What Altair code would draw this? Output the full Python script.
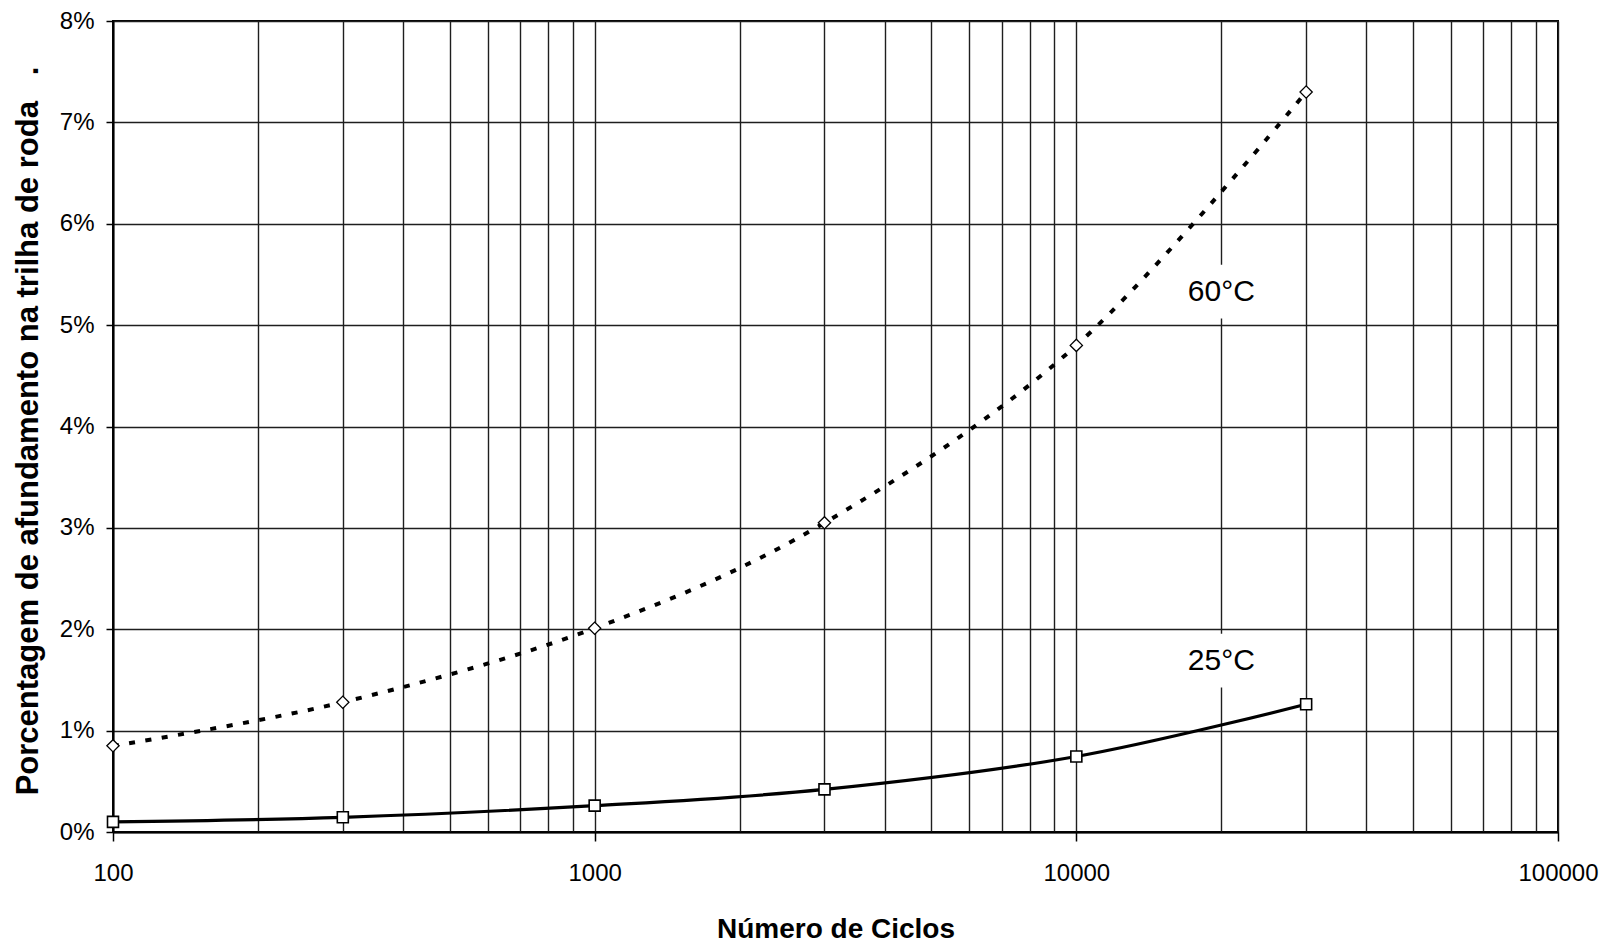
import altair as alt
import pandas as pd

# ---- data ----
ciclos = [100, 300, 1000, 3000, 10000, 30000]
afund_60 = [0.85, 1.28, 2.01, 3.05, 4.80, 7.30]   # %
afund_25 = [0.10, 0.145, 0.26, 0.42, 0.745, 1.26]  # %

grid_x = [100, 200, 300, 400, 500, 600, 700, 800, 900,
          1000, 2000, 3000, 4000, 5000, 6000, 7000, 8000, 9000,
          10000, 20000, 30000, 40000, 50000, 60000, 70000, 80000, 90000,
          100000]
major_x = [100, 1000, 10000, 100000]
y_ticks = [0, 1, 2, 3, 4, 5, 6, 7, 8]

rot_text = ["60°C", "25°C"]
rot_x = [20000, 20000]
rot_y = [5.33, 1.69]

FONT = "Liberation Sans"

df60 = pd.DataFrame({"x": ciclos, "y": afund_60})
df25 = pd.DataFrame({"x": ciclos, "y": afund_25})
dflab = pd.DataFrame({"x": rot_x, "y": rot_y, "t": rot_text})

major_test = " || ".join(f"datum.value == {v}" for v in major_x)

x_enc = alt.X(
    "x:Q",
    scale=alt.Scale(type="log", domain=[100, 100000], nice=False),
    axis=alt.Axis(
        values=grid_x,
        grid=True, gridColor="#1e1e1e", gridWidth=1.4, gridOpacity=1,
        domainColor="black", domainWidth=2,
        ticks=True, tickColor="black", tickWidth=1.5, tickSize=9,
        tickOpacity={"condition": {"test": major_test, "value": 1}, "value": 0},
        labelExpr=f"({major_test}) ? format(datum.value, 'd') : ''",
        labelFont=FONT, labelFontSize=24, labelColor="black",
        labelPadding=20, labelFlush=False, labelOverlap=False,
        title="Número de Ciclos", titleFont=FONT, titleFontSize=28,
        titleFontWeight="bold", titleColor="black",
        titleY=105, titleBaseline="alphabetic",
    ),
)

y_enc = alt.Y(
    "y:Q",
    scale=alt.Scale(domain=[0, 8], nice=False),
    axis=alt.Axis(
        values=y_ticks,
        grid=True, gridColor="#1e1e1e", gridWidth=1.4, gridOpacity=1,
        domainColor="black", domainWidth=2,
        ticks=True, tickColor="black", tickWidth=1.5, tickSize=7,
        labelExpr="datum.value + '%'",
        labelFont=FONT, labelFontSize=24, labelColor="black",
        labelPadding=12, labelOverlap=False,
        title="Porcentagem de afundamento na trilha de roda\u00a0\u00a0\u00a0.",
        titleFont=FONT, titleFontSize=31, titleFontWeight="bold",
        titleColor="black", titleX=-76, titleY=409.5,
        titleBaseline="alphabetic",
    ),
)

line60 = alt.Chart(df60).mark_line(
    interpolate="cardinal", color="black", strokeWidth=4,
    strokeDash=[6, 10.5], strokeCap="butt"
).encode(x=x_enc, y=y_enc)

pts60 = alt.Chart(df60).mark_point(
    shape="diamond", size=150, filled=True, fill="white",
    stroke="black", strokeWidth=1.3, opacity=1
).encode(x=x_enc, y=y_enc)

line25 = alt.Chart(df25).mark_line(
    interpolate="cardinal", color="black", strokeWidth=3.2
).encode(x=x_enc, y=y_enc)

pts25 = alt.Chart(df25).mark_point(
    shape="square", size=121, filled=True, fill="white",
    stroke="black", strokeWidth=1.6, opacity=1
).encode(x=x_enc, y=y_enc)

boxes = alt.Chart(dflab).mark_point(
    shape="square", size=2900, filled=True, fill="white",
    strokeWidth=0, opacity=1
).encode(x=x_enc, y=y_enc)

texts = alt.Chart(dflab).mark_text(
    font=FONT, fontSize=30, color="black", align="center", baseline="middle"
).encode(x=x_enc, y=y_enc, text="t:N")

chart = alt.layer(boxes, line60, line25, pts60, pts25, texts).properties(
    width=1445, height=811,
    autosize=alt.AutoSizeParams(type="none"),
    padding={"left": 113, "top": 21, "right": 56, "bottom": 110},
    background="white",
).configure_view(stroke="black", strokeWidth=2)

chart.save("out.html", embed_options={"renderer": "svg", "actions": False})
